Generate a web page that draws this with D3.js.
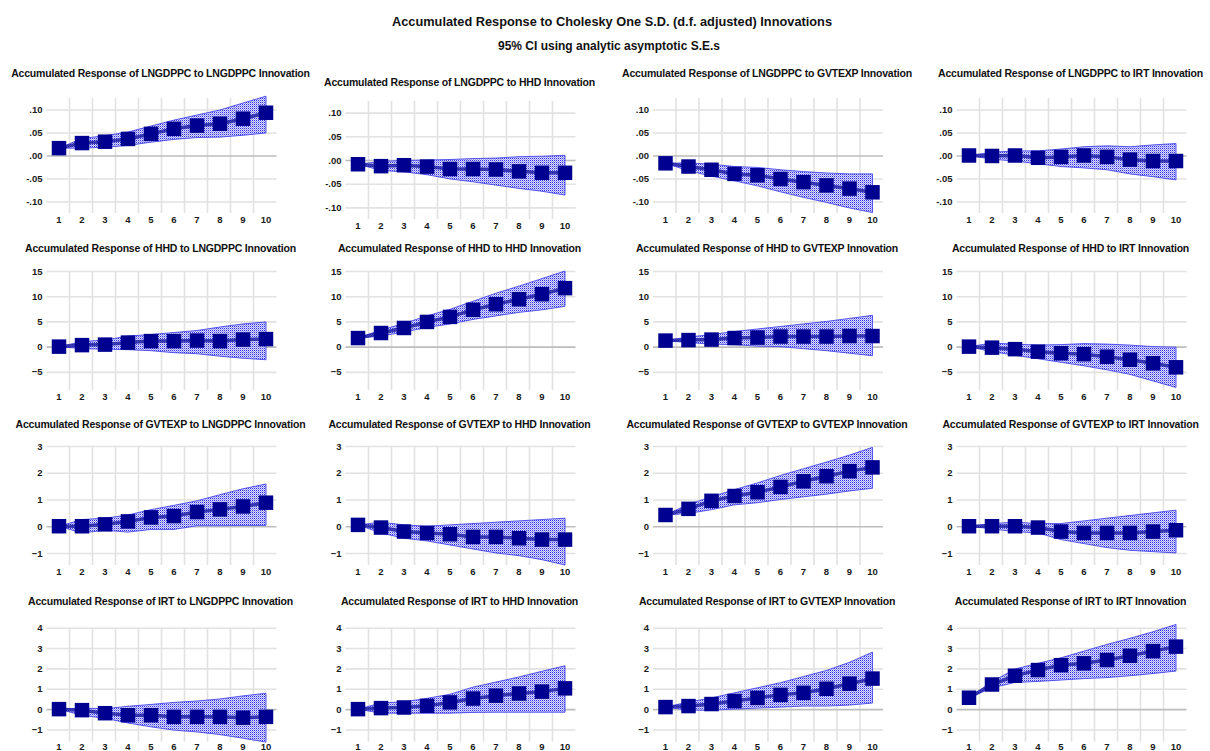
<!DOCTYPE html>
<html>
<head>
<meta charset="utf-8">
<script src="https://cdn.jsdelivr.net/npm/d3@7/dist/d3.min.js"></script>
<style>
  body { margin: 0; background: #ffffff; }
  svg { display: block; }
</style>
</head>
<body>
<svg id="chart" width="1210" height="751"></svg>
<script>
// Periods after the shock
const periods = [1, 2, 3, 4, 5, 6, 7, 8, 9, 10];
const variables = ["LNGDPPC", "HHD", "GVTEXP", "IRT"];

// Accumulated responses (point estimate, lower and upper 95% bounds)
// Response of LNGDPPC
const lngdppcToLngdppc    = [0.016, 0.027, 0.030, 0.036, 0.047, 0.058, 0.065, 0.069, 0.080, 0.093];
const lngdppcToLngdppcLo  = [0.016, 0.016, 0.018, 0.022, 0.029, 0.035, 0.039, 0.040, 0.044, 0.049];
const lngdppcToLngdppcHi  = [0.016, 0.037, 0.043, 0.051, 0.064, 0.077, 0.088, 0.099, 0.114, 0.129];
const lngdppcToHhd        = [-0.009, -0.013, -0.011, -0.014, -0.019, -0.019, -0.020, -0.024, -0.027, -0.027];
const lngdppcToHhdLo      = [-0.009, -0.022, -0.025, -0.031, -0.040, -0.046, -0.053, -0.060, -0.066, -0.074];
const lngdppcToHhdHi      = [-0.009, -0.003, -0.001, 0.000, 0.001, 0.003, 0.004, 0.007, 0.008, 0.010];
const lngdppcToGvtexp     = [-0.017, -0.024, -0.031, -0.040, -0.043, -0.051, -0.058, -0.065, -0.072, -0.080];
const lngdppcToGvtexpLo   = [-0.017, -0.033, -0.045, -0.055, -0.066, -0.079, -0.091, -0.102, -0.114, -0.124];
const lngdppcToGvtexpHi   = [-0.017, -0.016, -0.019, -0.024, -0.026, -0.031, -0.035, -0.038, -0.040, -0.040];
const lngdppcToIrt        = [0.000, -0.001, 0.000, -0.005, -0.003, 0.000, -0.003, -0.009, -0.012, -0.012];
const lngdppcToIrtLo      = [0.000, -0.008, -0.012, -0.018, -0.024, -0.027, -0.031, -0.040, -0.046, -0.053];
const lngdppcToIrtHi      = [0.000, 0.007, 0.010, 0.010, 0.014, 0.019, 0.021, 0.019, 0.023, 0.026];

// Response of HHD
const hhdToLngdppc        = [0.0, 0.3, 0.4, 0.8, 1.1, 1.1, 1.2, 1.1, 1.4, 1.5];
const hhdToLngdppcLo      = [0.0, -0.4, -0.5, -0.6, -0.8, -1.2, -1.4, -1.9, -2.3, -2.6];
const hhdToLngdppcHi      = [0.0, 1.0, 1.3, 2.1, 2.4, 2.8, 3.2, 3.9, 4.5, 4.9];
const hhdToHhd            = [1.7, 2.7, 3.7, 4.9, 5.9, 7.3, 8.4, 9.4, 10.4, 11.6];
const hhdToHhdLo          = [1.7, 2.1, 2.9, 3.8, 4.5, 5.4, 6.1, 6.8, 7.3, 8.0];
const hhdToHhdHi          = [1.7, 3.3, 4.6, 6.1, 7.4, 9.0, 10.6, 12.0, 13.5, 15.0];
const hhdToGvtexp         = [1.2, 1.3, 1.4, 1.7, 1.8, 2.0, 2.0, 2.0, 2.1, 2.1];
const hhdToGvtexpLo       = [1.2, 0.8, 0.5, 0.4, 0.1, 0.0, -0.4, -0.8, -1.3, -1.8];
const hhdToGvtexpHi       = [1.2, 1.9, 2.4, 3.0, 3.5, 4.0, 4.5, 5.0, 5.6, 6.2];
const hhdToIrt            = [0.0, -0.2, -0.5, -1.0, -1.3, -1.5, -2.0, -2.6, -3.3, -4.1];
const hhdToIrtLo          = [0.0, -1.0, -1.7, -2.4, -3.1, -3.8, -4.6, -5.5, -6.8, -8.1];
const hhdToIrtHi          = [0.0, 0.7, 0.5, 0.3, 0.4, 0.6, 0.5, 0.3, 0.0, -0.1];

// Response of GVTEXP
const gvtexpToLngdppc     = [0.0, 0.0, 0.07, 0.18, 0.33, 0.38, 0.53, 0.63, 0.74, 0.88];
const gvtexpToLngdppcLo   = [0.0, -0.25, -0.15, -0.22, -0.12, -0.12, 0.02, 0.02, 0.03, 0.03];
const gvtexpToLngdppcHi   = [0.0, 0.25, 0.30, 0.42, 0.62, 0.78, 0.95, 1.18, 1.40, 1.58];
const gvtexpToHhd         = [0.05, -0.05, -0.2, -0.25, -0.3, -0.4, -0.4, -0.45, -0.5, -0.5];
const gvtexpToHhdLo       = [0.05, -0.25, -0.45, -0.55, -0.7, -0.85, -1.0, -1.1, -1.25, -1.45];
const gvtexpToHhdHi       = [0.05, 0.15, 0.05, 0.0, 0.05, 0.1, 0.15, 0.2, 0.25, 0.3];
const gvtexpToGvtexp      = [0.42, 0.65, 0.95, 1.13, 1.27, 1.47, 1.68, 1.87, 2.06, 2.20];
const gvtexpToGvtexpLo    = [0.42, 0.48, 0.62, 0.80, 0.88, 1.00, 1.10, 1.20, 1.32, 1.42];
const gvtexpToGvtexpHi    = [0.42, 0.82, 1.10, 1.37, 1.62, 1.90, 2.15, 2.40, 2.66, 2.95];
const gvtexpToIrt         = [0.0, 0.0, 0.0, -0.05, -0.2, -0.25, -0.25, -0.25, -0.2, -0.15];
const gvtexpToIrtLo       = [0.0, -0.1, -0.2, -0.25, -0.5, -0.65, -0.8, -0.9, -0.95, -1.0];
const gvtexpToIrtHi       = [0.0, 0.1, 0.15, 0.1, 0.1, 0.2, 0.3, 0.4, 0.5, 0.6];

// Response of IRT
const irtToLngdppc        = [0.0, -0.05, -0.2, -0.3, -0.3, -0.38, -0.38, -0.38, -0.42, -0.38];
const irtToLngdppcLo      = [0.0, -0.3, -0.45, -0.68, -0.87, -1.03, -1.12, -1.25, -1.43, -1.62];
const irtToLngdppcHi      = [0.0, 0.05, 0.02, 0.14, 0.23, 0.33, 0.40, 0.50, 0.65, 0.78];
const irtToHhd            = [0.0, 0.05, 0.08, 0.16, 0.33, 0.52, 0.66, 0.77, 0.86, 1.02];
const irtToHhdLo          = [0.0, -0.2, -0.2, -0.2, -0.2, -0.16, -0.15, -0.15, -0.15, -0.15];
const irtToHhdHi          = [0.0, 0.30, 0.36, 0.53, 0.73, 1.08, 1.33, 1.58, 1.86, 2.13];
const irtToGvtexp         = [0.1, 0.15, 0.25, 0.4, 0.55, 0.7, 0.8, 1.0, 1.25, 1.5];
const irtToGvtexpLo       = [0.1, -0.05, -0.05, 0.0, 0.05, 0.1, 0.15, 0.15, 0.2, 0.3];
const irtToGvtexpHi       = [0.1, 0.35, 0.55, 0.8, 1.05, 1.3, 1.6, 1.9, 2.3, 2.8];
const irtToIrt            = [0.56, 1.21, 1.64, 1.92, 2.16, 2.25, 2.41, 2.62, 2.85, 3.07];
const irtToIrtLo          = [0.56, 1.05, 1.31, 1.36, 1.43, 1.50, 1.55, 1.64, 1.75, 1.87];
const irtToIrtHi          = [0.56, 1.35, 1.97, 2.25, 2.52, 2.85, 3.18, 3.48, 3.80, 4.16];

// Value-axis ticks for each responding variable (one row each)
const ticksLngdppc = [0.10, 0.05, 0.00, -0.05, -0.10];
const ticksHhd     = [15, 10, 5, 0, -5];
const ticksGvtexp  = [3, 2, 1, 0, -1];
const ticksIrt     = [4, 3, 2, 1, 0, -1];

// Grid of panels: rows = responding variable, columns = shocked variable
const panelSeries = [
  [[lngdppcToLngdppc, lngdppcToLngdppcLo, lngdppcToLngdppcHi],
   [lngdppcToHhd, lngdppcToHhdLo, lngdppcToHhdHi],
   [lngdppcToGvtexp, lngdppcToGvtexpLo, lngdppcToGvtexpHi],
   [lngdppcToIrt, lngdppcToIrtLo, lngdppcToIrtHi]],
  [[hhdToLngdppc, hhdToLngdppcLo, hhdToLngdppcHi],
   [hhdToHhd, hhdToHhdLo, hhdToHhdHi],
   [hhdToGvtexp, hhdToGvtexpLo, hhdToGvtexpHi],
   [hhdToIrt, hhdToIrtLo, hhdToIrtHi]],
  [[gvtexpToLngdppc, gvtexpToLngdppcLo, gvtexpToLngdppcHi],
   [gvtexpToHhd, gvtexpToHhdLo, gvtexpToHhdHi],
   [gvtexpToGvtexp, gvtexpToGvtexpLo, gvtexpToGvtexpHi],
   [gvtexpToIrt, gvtexpToIrtLo, gvtexpToIrtHi]],
  [[irtToLngdppc, irtToLngdppcLo, irtToLngdppcHi],
   [irtToHhd, irtToHhdLo, irtToHhdHi],
   [irtToGvtexp, irtToGvtexpLo, irtToGvtexpHi],
   [irtToIrt, irtToIrtLo, irtToIrtHi]]
];
const rowTicks = [ticksLngdppc, ticksHhd, ticksGvtexp, ticksIrt];

// ---- layout ----
const plotW = 230;
const colLeft = [46.5, 345.5, 653, 956.5];
// value-axis domain and pixel extent per row: [min, max], [bottom, top]
const rowDomain = [[-0.125, 0.125], [-8.6, 15], [-1.45, 3], [-1.6, 4]];
const rowPixels = [[213, 98], [390, 271], [565, 446], [741.7, 627.7]];
const rowTitleY = [73, 248, 424, 601];
// the second panel of the first row sits a little lower
const panelShift = (r, c) => (r === 0 && c === 1) ? { dy: 4.5, stretch: 1.7, titleDy: 9 } : { dy: 0, stretch: 0, titleDy: 0 };

const fmtSmall = d => d === 0 ? ".00" : (d < 0 ? "-" : "") + d3.format(".2f")(Math.abs(d)).replace(/^0/, "");
const rowFormat = [fmtSmall, d3.format("d"), d3.format("d"), d3.format("d")];

const titleFont = "'Liberation Sans', Arial, sans-serif";
const svg = d3.select("#chart");

// dotted fill used for the confidence bands
const defs = svg.append("defs");
const pat = defs.append("pattern")
  .attr("id", "bandDots")
  .attr("patternUnits", "userSpaceOnUse")
  .attr("width", 2).attr("height", 2);
pat.append("rect").attr("width", 2).attr("height", 2).attr("fill", "#dedefb");
pat.append("rect").attr("x", 0).attr("y", 0).attr("width", 1).attr("height", 1).attr("fill", "#2b2bea");
pat.append("rect").attr("x", 1).attr("y", 1).attr("width", 1).attr("height", 1).attr("fill", "#9a9af4");

// main heading
svg.append("text")
  .attr("x", 612).attr("y", 21)
  .attr("text-anchor", "middle").attr("dominant-baseline", "central")
  .attr("textLength", 440).attr("lengthAdjust", "spacingAndGlyphs")
  .style("font-family", titleFont)
  .style("font-size", "13px").style("font-weight", "bold").style("fill", "#111")
  .text("Accumulated Response to Cholesky One S.D. (d.f. adjusted) Innovations");
svg.append("text")
  .attr("x", 609).attr("y", 45)
  .attr("text-anchor", "middle").attr("dominant-baseline", "central")
  .attr("textLength", 222).attr("lengthAdjust", "spacingAndGlyphs")
  .style("font-family", titleFont)
  .style("font-size", "13px").style("font-weight", "bold").style("fill", "#111")
  .text("95% CI using analytic asymptotic S.E.s");

for (let r = 0; r < 4; r++) {
  for (let c = 0; c < 4; c++) {
    const shift = panelShift(r, c);
    const left = colLeft[c];
    const bottom = rowPixels[r][0] + shift.dy + shift.stretch;
    const top = rowPixels[r][1] + shift.dy - shift.stretch;
    const [mid, lo, hi] = panelSeries[r][c];

    const x = d3.scaleBand().domain(periods).range([left, left + plotW]);
    const xm = p => x(p) + x.bandwidth() / 2 + 1;
    const y = d3.scaleLinear().domain(rowDomain[r]).range([bottom, top]);

    const g = svg.append("g");

    // vertical grid lines between periods
    g.selectAll("line.vgrid")
      .data(periods.slice(1))
      .join("line")
      .attr("class", "vgrid")
      .attr("x1", d => x(d)).attr("x2", d => x(d))
      .attr("y1", top).attr("y2", bottom)
      .attr("stroke", "#e2e2e2").attr("stroke-width", 1.6);

    // value axis with horizontal grid lines
    const yAxis = g.append("g")
      .attr("transform", `translate(${left},0)`)
      .call(d3.axisLeft(y)
        .tickValues(rowTicks[r])
        .tickFormat(rowFormat[r])
        .tickSizeInner(-plotW).tickSizeOuter(0).tickPadding(4));
    yAxis.select(".domain").remove();
    yAxis.selectAll(".tick line")
      .attr("stroke", d => d === 0 ? "#bdbdbd" : "#e2e2e2")
      .attr("stroke-width", 1.6);
    yAxis.selectAll(".tick text")
      .style("font-family", "'Liberation Sans', Arial, sans-serif")
      .style("font-size", "9.5px").style("font-weight", "bold").style("fill", "#1a1a1a");

    // period axis
    const xAxis = g.append("g")
      .attr("transform", `translate(0,${bottom})`)
      .call(d3.axisBottom(x).tickSize(0).tickPadding(r === 3 ? 2 : 3.5));
    xAxis.select(".domain").remove();
    xAxis.selectAll(".tick text")
      .attr("dx", 1)
      .style("font-family", "'Liberation Sans', Arial, sans-serif")
      .style("font-size", "9.5px").style("font-weight", "bold").style("fill", "#1a1a1a");

    // confidence band
    const band = d3.area()
      .x((d, i) => xm(periods[i]))
      .y0((d, i) => y(lo[i]))
      .y1((d, i) => y(hi[i]));
    g.append("path")
      .datum(mid)
      .attr("d", band)
      .attr("fill", "url(#bandDots)")
      .attr("stroke", "#4646f0").attr("stroke-width", 0.9);

    // point estimates
    const line = d3.line()
      .x((d, i) => xm(periods[i]))
      .y(d => y(d));
    g.append("path")
      .datum(mid)
      .attr("d", line)
      .attr("fill", "none")
      .attr("stroke", "#1a1aa0").attr("stroke-width", 3.5).attr("stroke-opacity", 0.8);

    g.selectAll("path.marker")
      .data(mid)
      .join("path")
      .attr("class", "marker")
      .attr("d", d3.symbol(d3.symbolSquare, 210))
      .attr("transform", (d, i) => `translate(${xm(periods[i])},${y(d)})`)
      .attr("fill", "#000090");

    // panel title
    svg.append("text")
      .attr("x", left + plotW / 2 - 1)
      .attr("y", rowTitleY[r] + shift.titleDy)
      .attr("text-anchor", "middle").attr("dominant-baseline", "central")
      .style("font-family", titleFont)
      .style("font-size", "10.5px").style("font-weight", "bold").style("fill", "#111")
      .style("letter-spacing", "-0.2px")
      .text(`Accumulated Response of ${variables[r]} to ${variables[c]} Innovation`);
  }
}
</script>
</body>
</html>
